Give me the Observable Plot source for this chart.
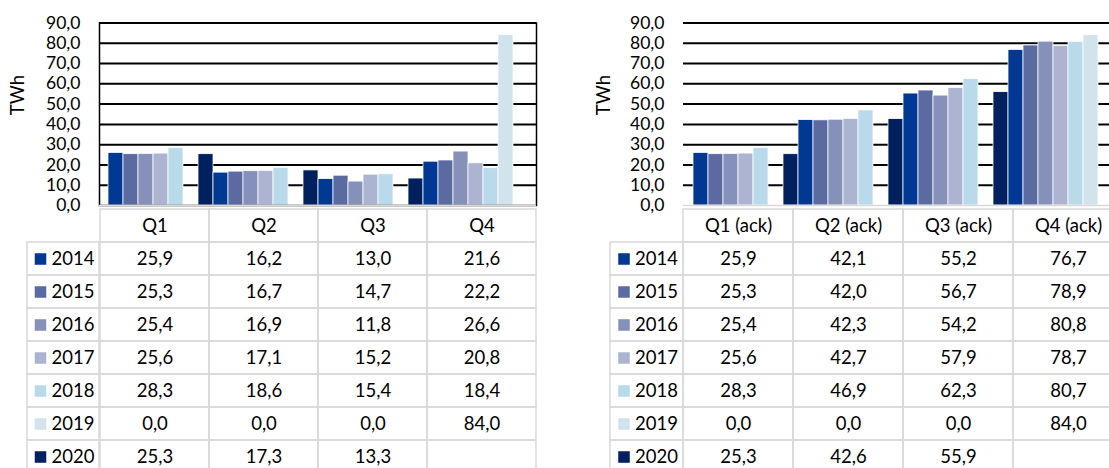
<!DOCTYPE html>
<html>
<head>
<meta charset="utf-8">
<script src="https://cdn.jsdelivr.net/npm/d3@7"></script>
<script src="https://cdn.jsdelivr.net/npm/@observablehq/plot@0.6"></script>
<style>
  html, body { margin: 0; padding: 0; overflow: hidden; background: white; }
  #root { position: relative; width: 1109px; height: 468px; overflow: hidden; }
  .layer { position: absolute; }
  .layer svg { max-width: none !important; }
</style>
</head>
<body>
<div id="root"></div>
<script>
// ---- data ----
const years = [2014, 2015, 2016, 2017, 2018, 2019, 2020];
const colors = ["#003894", "#5b6aa0", "#8691ba", "#adb4d2", "#b8daea", "#d1e4ee", "#002060"];
const quartersLeft = ["Q1", "Q2", "Q3", "Q4"];
const quartersRight = ["Q1 (ack)", "Q2 (ack)", "Q3 (ack)", "Q4 (ack)"];
const yTicks = [0, 10, 20, 30, 40, 50, 60, 70, 80, 90];
const gridTicks = [10, 20, 30, 40, 50, 60, 70, 80, 90];

// per-quarter values (left chart)
const q2014 = [25.9, 16.2, 13.0, 21.6];
const q2015 = [25.3, 16.7, 14.7, 22.2];
const q2016 = [25.4, 16.9, 11.8, 26.6];
const q2017 = [25.6, 17.1, 15.2, 20.8];
const q2018 = [28.3, 18.6, 15.4, 18.4];
const q2019 = [0.0, 0.0, 0.0, 84.0];
const q2020 = [25.3, 17.3, 13.3, null];

// accumulated values (right chart)
const a2014 = [25.9, 42.1, 55.2, 76.7];
const a2015 = [25.3, 42.0, 56.7, 78.9];
const a2016 = [25.4, 42.3, 54.2, 80.8];
const a2017 = [25.6, 42.7, 57.9, 78.7];
const a2018 = [28.3, 46.9, 62.3, 80.7];
const a2019 = [0.0, 0.0, 0.0, 84.0];
const a2020 = [25.3, 42.6, 55.9, null];

const seriesLeft = [q2014, q2015, q2016, q2017, q2018, q2019, q2020];
const seriesRight = [a2014, a2015, a2016, a2017, a2018, a2019, a2020];

const fmt = v => v == null ? "" : v.toFixed(1).replace(".", ",");
const FONT = "Lato, 'Open Sans', 'Noto Sans', sans-serif";
const baseStyle = {fontFamily: FONT, fontSize: "18.5px", color: "black", background: "transparent", overflow: "visible"};
const GRAY = "#d9d9d9";
const rows = ["header", ...years.map(String)];

function panel({quarters, series, left, width, marginLeft, plotRight, legendLeft, frame, labelDx}) {
  const root = document.getElementById("root");
  // bar data: one bar per quarter x year, years in order within each quarter
  const bars = [];
  quarters.forEach((q, qi) => years.forEach((yr, yi) => {
    const v = series[yi][qi];
    if (v != null) bars.push({key: q + "|" + yr, year: yr, value: v});
  }));
  const keys = quarters.flatMap(q => years.map(yr => q + "|" + yr));

  const chart = Plot.plot({
    width, height: 206,
    marginLeft, marginRight: width - plotRight, marginTop: 22.5, marginBottom: 1,
    style: baseStyle,
    x: {type: "band", domain: keys, padding: 0, axis: null},
    y: {domain: [0, 90], axis: null},
    color: {type: "ordinal", domain: years, range: colors},
    marks: [
      Plot.ruleY(gridTicks, {stroke: "black", strokeWidth: 2}),
      Plot.barY(bars, {x: "key", y: "value", fill: "year", stroke: "white", strokeWidth: 0.75}),
      frame ? Plot.frame({stroke: "black", strokeWidth: 1.5}) : null,
      Plot.ruleY([0], {stroke: GRAY, strokeWidth: 1.5}),
      Plot.axisY({ticks: yTicks, tickFormat: fmt, tickSize: 0, tickPadding: 19, fill: "black", label: null, fontSize: 17.5}),
      Plot.text(["TWh"], {text: d => d, frameAnchor: "left", dx: labelDx, dy: 1, rotate: -90, fill: "black", fontSize: 18.5})
    ]
  });

  // table cells
  const cells = [];
  quarters.forEach((q, qi) => {
    cells.push({q, row: "header", label: q});
    years.forEach((yr, yi) => cells.push({q, row: String(yr), label: fmt(series[yi][qi])}));
  });
  const rowRange = [0, 8 * 33.9];
  const table = Plot.plot({
    width, height: 263,
    marginLeft: 0, marginRight: 0, marginTop: 0, marginBottom: 0,
    style: baseStyle,
    x: {type: "band", domain: quarters, range: [marginLeft, plotRight], padding: 0, axis: null},
    y: {type: "band", domain: rows, range: rowRange, padding: 0, axis: null},
    marks: [
      Plot.cell(cells, {x: "q", y: "row", fill: "none", stroke: GRAY, strokeWidth: 1.5, inset: 0}),
      Plot.text(cells, {x: "q", y: "row", text: "label", fill: "black", dy: 0.5})
    ]
  });

  // legend column
  const legendRows = years.map((yr, i) => ({col: "key", row: String(yr), year: yr, label: String(yr)}));
  const legend = Plot.plot({
    width: marginLeft, height: 263,
    marginLeft: 0, marginRight: 0, marginTop: 0, marginBottom: 0,
    style: baseStyle,
    x: {type: "band", domain: ["key"], range: [legendLeft, marginLeft], padding: 0, axis: null},
    y: {type: "band", domain: rows, range: rowRange, padding: 0, axis: null},
    color: {type: "ordinal", domain: years, range: colors},
    marks: [
      Plot.cell(legendRows, {x: "col", y: "row", fill: "none", stroke: GRAY, strokeWidth: 1.5, inset: 0}),
      Plot.dot(legendRows, {x: "col", y: "row", fill: "year", symbol: "square", r: 6.5, dx: -23}),
      Plot.text(legendRows, {x: "col", y: "row", text: "label", textAnchor: "start", dx: -12, dy: 0.5, fill: "black"})
    ]
  });

  const add = (node, top, w) => {
    const d = document.createElement("div");
    d.className = "layer";
    d.style.left = left + "px";
    d.style.top = top + "px";
    d.style.width = w + "px";
    d.appendChild(node);
    root.appendChild(d);
  };
  add(chart, 0, width);
  add(table, 205, width);
  add(legend, 205, marginLeft);
}

panel({quarters: quartersLeft, series: seriesLeft, left: 0, width: 560, marginLeft: 99, plotRight: 536,
       legendLeft: 27, frame: true, labelDx: -81});
panel({quarters: quartersRight, series: seriesRight, left: 560, width: 575, marginLeft: 123, plotRight: 563,
       legendLeft: 50, frame: false, labelDx: -79});
</script>
</body>
</html>
